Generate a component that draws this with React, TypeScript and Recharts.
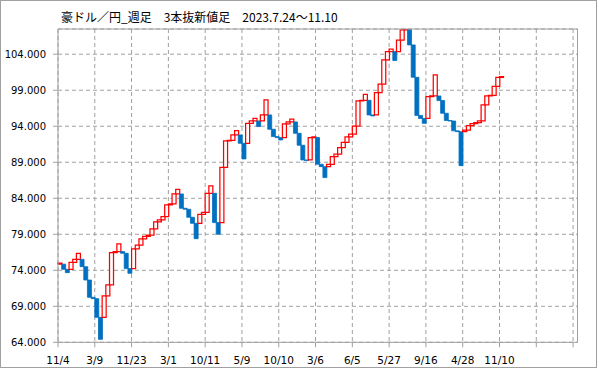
import React from "react";
import {
  ComposedChart,
  Bar,
  Cell,
  XAxis,
  YAxis,
  CartesianGrid,
  ReferenceLine,
} from "recharts";

// 豪ドル／円 週足 三本新値足 — close of each brick, oldest first
const FIRST_OPEN = 74.85;
const closes = [
  75.0, 74.13, 73.67, 75.1, 75.52, 76.36, 74.5, 72.65, 70.25, 70.06,
  67.47, 64.41, 70.43, 71.96, 76.45, 76.59, 77.65, 76.36, 74.23, 73.58,
  76.96, 77.49, 78.37, 78.72, 78.88, 79.74, 80.71, 80.99, 81.45, 83.07,
  83.21, 84.6, 85.25, 82.61, 82.47, 81.36, 80.52, 78.39, 81.77, 82.05,
  84.69, 85.71, 80.62, 79.0, 88.3, 91.96, 92.05, 92.79, 93.39, 91.63,
  89.46, 94.41, 94.74, 95.1, 93.95, 95.57, 97.65, 93.58, 92.56, 92.42,
  92.1, 94.32, 94.6, 94.97, 93.02, 91.36, 89.32, 89.23, 92.42, 92.51,
  88.72, 88.39, 86.87, 88.72, 89.78, 90.11, 91.03, 91.77, 92.51, 92.9,
  94.0, 97.51, 97.6, 98.44, 95.57, 95.43, 98.67, 99.83, 103.2, 104.37,
  104.7, 103.12, 105.95, 107.39, 107.47, 105.29, 100.8, 95.5, 95.08, 94.4,
  98.12, 98.2, 101.13, 97.56, 95.8, 94.8, 94.72, 93.36, 93.25, 88.53,
  93.45, 94.09, 94.36, 94.5, 94.74, 96.96, 98.21, 98.3, 99.55, 100.8,
  100.89,
];

// one label every 10 bricks
const dateLabels = [
  "11/4", "3/9", "11/23", "3/1", "10/11", "5/9", "10/10", "3/6",
  "6/5", "5/27", "9/16", "4/28", "11/10", "", "",
];
const xTicks = [0, 10, 20, 30, 40, 50, 60, 70, 80, 90, 100, 110, 120, 130, 140];
const yTicks = [64, 69, 74, 79, 84, 89, 94, 99, 104];

const SLOTS = 141;
const X_MAX = 141.2;
const Y_MIN = 64;
const Y_MAX = 107.5;

const UP = "#ff0000";
const DOWN = "#0070c0";
const FRAME = "#a0a0a0";
const FONT = "DejaVu Sans";

// line break rule: a reversal brick starts from the previous brick's open
function buildRows() {
  const rows: { slot: number; range: number[] | null; up: boolean }[] = [];
  let prevOpen = FIRST_OPEN;
  let prevClose = FIRST_OPEN;
  let prevUp = true;
  closes.forEach((c, i) => {
    const up = i === 0 ? c > FIRST_OPEN : c > closes[i - 1];
    const open = i === 0 ? FIRST_OPEN : up === prevUp ? prevClose : prevOpen;
    rows.push({ slot: i, range: [Math.min(open, c), Math.max(open, c)], up });
    prevOpen = open;
    prevClose = c;
    prevUp = up;
  });
  for (let i = closes.length; i < SLOTS; i++) rows.push({ slot: i, range: null, up: true });
  return rows;
}

const rows = buildRows();

export default function App() {
  return (
    <div
      style={{
        position: "absolute",
        left: 0,
        top: 0,
        width: 597,
        height: 368,
        boxSizing: "border-box",
        border: `1px solid ${FRAME}`,
        background: "#fff",
      }}
    >
      <div
        style={{
          position: "absolute",
          left: 60,
          top: 10,
          fontFamily: "Noto Sans CJK JP",
          fontSize: 12,
          lineHeight: "12px",
          color: "#000",
          whiteSpace: "pre",
        }}
      >
        豪ドル／円_週足　3本抜新値足　2023.7.24〜11.10
      </div>
      <div style={{ position: "absolute", left: -1, top: -1 }}>
        <ComposedChart
          width={599}
          height={369}
          data={rows}
          margin={{ top: 29, right: 21.5, bottom: 0, left: 0 }}
          barCategoryGap={0}
          barGap={0}
        >
          <CartesianGrid stroke={FRAME} strokeDasharray="4 3" />
          <XAxis
            xAxisId="cat"
            dataKey="slot"
            type="category"
            hide
            padding={{ left: 0, right: 0.74 }}
          />
          <XAxis
            type="number"
            dataKey="slot"
            domain={[0, X_MAX]}
            ticks={xTicks}
            interval={0}
            allowDataOverflow
            tickFormatter={(v: number) => dateLabels[Math.round(v / 10)] ?? ""}
            height={26.7}
            stroke={FRAME}
            tickSize={5}
            tickMargin={9}
            tick={{ fontSize: 10.5, fill: "#000", fontFamily: FONT }}
          />
          <YAxis
            type="number"
            domain={[Y_MIN, Y_MAX]}
            ticks={yTicks}
            interval={0}
            allowDataOverflow
            width={58}
            stroke={FRAME}
            tickSize={5}
            tickMargin={7}
            tickFormatter={(v: number) => v.toFixed(3)}
            tick={{ fontSize: 10, fill: "#000", fontFamily: FONT }}
          />
          <ReferenceLine y={Y_MAX} stroke={FRAME} />
          <ReferenceLine x={X_MAX} stroke={FRAME} />
          <Bar xAxisId="cat" dataKey="range" isAnimationActive={false}>
            {rows.map((r) => (
              <Cell
                key={r.slot}
                fill={r.up ? "#ffffff" : DOWN}
                stroke={r.up ? UP : DOWN}
                strokeWidth={r.up ? 1.25 : 0.8}
              />
            ))}
          </Bar>
        </ComposedChart>
      </div>
    </div>
  );
}
